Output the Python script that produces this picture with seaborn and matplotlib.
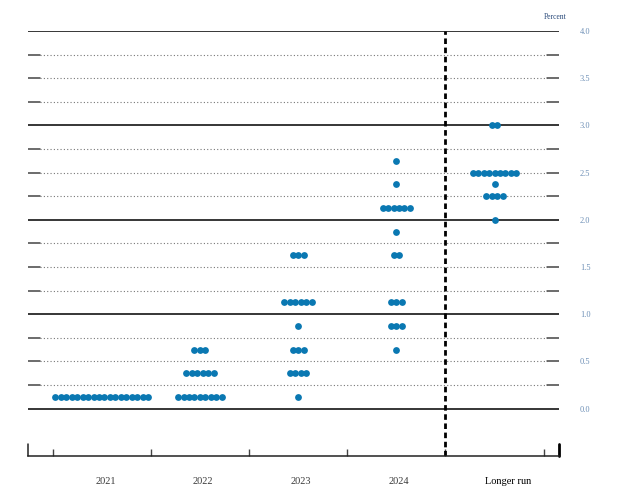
import matplotlib.pyplot as plt
import numpy as np
import pandas as pd
import seaborn as sns

dot_blue = "#0a78b2"
label_blue = "#6d8fb6"

# projections: midpoint of target range -> number of participants
categories = ["2021", "2022", "2023", "2024", "Longer run"]
rates_2021 = [0.125]
counts_2021 = [18]
rates_2022 = [0.125, 0.375, 0.625]
counts_2022 = [9, 6, 3]
rates_2023 = [0.125, 0.375, 0.625, 0.875, 1.125, 1.625]
counts_2023 = [1, 4, 3, 1, 6, 3]
rates_2024 = [0.625, 0.875, 1.125, 1.625, 1.875, 2.125, 2.375, 2.625]
counts_2024 = [1, 3, 3, 2, 1, 6, 1, 1]
rates_lr = [2.0, 2.25, 2.375, 2.5, 3.0]
counts_lr = [1, 4, 1, 9, 2]

y_ticks = [0.0, 0.5, 1.0, 1.5, 2.0, 2.5, 3.0, 3.5, 4.0]

all_rates = [rates_2021, rates_2022, rates_2023, rates_2024, rates_lr]
all_counts = [counts_2021, counts_2022, counts_2023, counts_2024, counts_lr]

spacing = 0.0555
rows = []
for i, (rates, counts) in enumerate(zip(all_rates, all_counts)):
    for r, n in zip(rates, counts):
        for k in range(n):
            rows.append({"x": i + (k - (n - 1) / 2) * spacing, "rate": r})
df = pd.DataFrame(rows)

sns.set_style("white")
plt.rcParams['font.family'] = ['Liberation Serif', 'DejaVu Serif']

fig = plt.figure(figsize=(6.28, 5.04), dpi=100)
ax = fig.add_axes([0.045, 0.0958, 0.845, 0.8427])

xmin, xmax = -0.748, 4.656
ax.set_xlim(xmin, xmax)
ax.set_ylim(-0.5, 4.0)

# horizontal rules
end_frac = 12 / 531
for v in np.arange(0, 4.01, 0.25):
    if v % 1 == 0:
        ax.axhline(v, color='black', lw=1.1, zorder=1)
    else:
        ax.axhline(v, xmin=end_frac, xmax=1 - end_frac, color='#777777',
                   lw=0.8, ls=(0, (1, 2)), zorder=1)
        ax.axhline(v, xmin=0, xmax=end_frac, color='#444444', lw=1.1, zorder=1)
        ax.axhline(v, xmin=1 - end_frac, xmax=1, color='#444444', lw=1.1, zorder=1)

ax.axvline(3.5, color='black', lw=2, ls=(0, (2, 1.3)), zorder=2)

sns.scatterplot(data=df, x="x", y="rate", color=dot_blue, s=24,
                linewidth=0, ax=ax, zorder=3, clip_on=False)

for s in ['top', 'left', 'right']:
    ax.spines[s].set_visible(False)
ax.spines['bottom'].set_color('#222222')
ax.spines['bottom'].set_linewidth(1.1)

# end ticks on the x axis
ax.axvline(xmin, ymin=0, ymax=12 / 424, color='#222222', lw=1.1, clip_on=False)
ax.axvline(xmax, ymin=0, ymax=12 / 424, color='black', lw=2, clip_on=False)

ax.set_xticks(np.arange(-0.5, 4.6, 1.0), minor=True)
ax.tick_params(axis='x', which='minor', direction='in', length=5,
               width=1, color='#444444', bottom=True)
ax.set_xticks([0.04, 1.03, 2.03, 3.03, 4.14])
ax.set_xticklabels(categories, fontsize=7.5, color='#3a3a3a')
ax.get_xticklabels()[-1].set_color('black')
ax.tick_params(axis='x', which='major', length=0, pad=15)

ax.yaxis.tick_right()
ax.set_yticks(y_ticks)
ax.set_yticklabels([f"{v:.1f}" for v in y_ticks], fontsize=6, color=label_blue)
ax.tick_params(axis='y', length=0, pad=15)
ax.set_xlabel('')
ax.set_ylabel('')

fig.text(0.884, 0.966, "Percent", fontsize=5.5, color='#2a4a7a', ha='center', va='center')

fig.savefig("out.png", dpi=100)
